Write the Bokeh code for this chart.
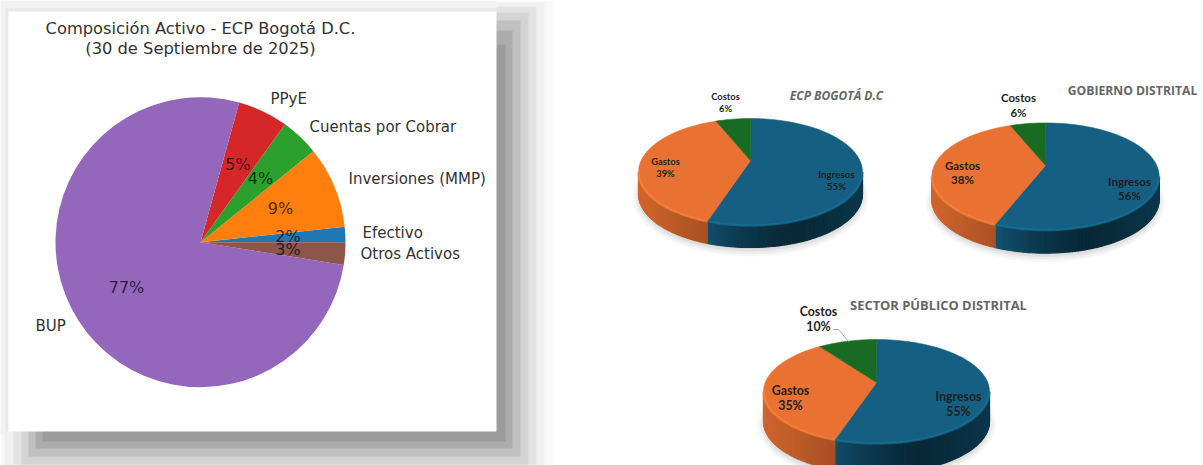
import math
from bokeh.plotting import figure
from bokeh.models import Range1d
from bokeh.core.properties import value
from bokeh.embed import file_html
from bokeh.resources import INLINE

# ---- data ----
asset_names = ["Efectivo", "Inversiones (MMP)", "Cuentas por Cobrar", "PPyE", "BUP", "Otros Activos"]
asset_shares = [1.7, 9.1, 4.3, 5.6, 76.8, 2.5]
asset_pct_labels = ["2%", "9%", "4%", "5%", "77%", "3%"]
asset_colors = ["#1f77b4", "#ff7f0e", "#2ca02c", "#d62728", "#9467bd", "#8c564b"]

pie3d_names = ["Ingresos", "Gastos", "Costos"]
ecp_shares = [56.3, 38.7, 5]
ecp_labels = ["55%", "39%", "6%"]
gob_shares = [57.3, 37.7, 5]
gob_labels = ["56%", "38%", "6%"]
sec_shares = [56, 35.6, 8.4]
sec_labels = ["55%", "35%", "10%"]
pie3d_colors = ["#156082", "#E97132", "#196B24"]

FONT3D = "Lato"
FONTT = "Open Sans"

p = figure(width=1203, height=465, x_range=Range1d(0, 1203), y_range=Range1d(465, 0),
           output_backend="svg", toolbar_location=None, min_border=0)
p.axis.visible = False
p.grid.visible = False
p.outline_line_color = None
p.background_fill_color = "white"
p.border_fill_color = "white"

# ---- card with its shadow: layers from the outermost inward ----
layers = [
    (0, 0, 552, 465, "#f8f8f8"),
    (4, 2, 544, 465, "#f0f0f0"),
    (13, 6, 536, 464, "#e2e2e2"),
    (21, 12, 528, 464, "#d4d4d4"),
    (28, 20, 520, 456, "#c0c0c0"),
    (35, 30, 512, 448, "#acacac"),
    (42, 44, 505, 441, "#9c9c9c"),
    (0, 0, 8, 433, "#f2f2f2"),
    (5, 8, 8, 431, "#e8e8e8"),
    (0, 0, 496, 8, "#f3f3f3"),
    (5, 8, 496, 11, "#e8e8e8"),
    (8, 11, 496, 431, "#ffffff"),
]
for x0, y0, x1, y1, c in layers:
    p.quad(left=x0, right=x1, top=y0, bottom=y1, fill_color=c, line_color=None)

# ---- flat pie ----
CX, CY, R = 200, 241.7, 145
start = 0.0
total = sum(asset_shares)
for s, c in zip(asset_shares, asset_colors):
    end = start + s / total * 2 * math.pi
    p.wedge(x=CX, y=CY, radius=R, start_angle=start, end_angle=end, direction="anticlock",
            fill_color=c, line_color=None)
    start = end

def t(x, y, s, font="DejaVu Sans", size=14, color="#333333", style="normal", alpha=1.0, align="center"):
    p.text(x=[x], y=[y], text=[s], text_font=value(font), text_font_size=f"{size}px",
           text_font_style=style, text_color=color, text_alpha=alpha, text_align=align,
           text_baseline="middle")

t(200, 28, "Composición Activo - ECP Bogotá D.C.", size=16.3)
t(200, 48, "(30 de Septiembre de 2025)", size=16.3)
name_xy = [(362, 232), (348, 178), (309, 126), (270, 98), (35, 325), (360, 253)]
for n, (x, y) in zip(asset_names, name_xy):
    t(x, y, n, size=15, align="left")
pct_xy = [(287.5, 236), (280, 208), (260, 178), (237.5, 164), (126, 287), (287.5, 249)]
for s, (x, y) in zip(asset_pct_labels, pct_xy):
    t(x, y, s, size=16, color="#000000", alpha=0.72)

# ---- 3D pies ----
def mix(c, k):
    r, g, b = int(c[1:3], 16), int(c[3:5], 16), int(c[5:7], 16)
    return "#%02x%02x%02x" % tuple(max(0, min(255, int(v * k))) for v in (r, g, b))

def pie3d(cx, cy, a, b, apex_y, depth, shares):
    # soft ground shadow
    for i, al in enumerate([0.03, 0.04, 0.05, 0.06]):
        p.ellipse(x=cx, y=cy + depth + 3, width=2 * (a + 6 - i * 2.5), height=2 * (b + 6 - i * 2.5),
                  fill_color="#000000", fill_alpha=al, line_color=None)
    tot = sum(shares)
    st = 0.0
    # side wall, shaded strip by strip
    for s, c in zip(shares, pie3d_colors):
        en = st + s / tot * 2 * math.pi
        lo, hi = max(st, math.pi / 2), min(en, 3 * math.pi / 2)
        n = 70
        if hi > lo:
            xs, ys, cols = [], [], []
            for i in range(n):
                u0 = lo + (hi - lo) * i / n
                u1 = lo + (hi - lo) * (i + 1) / n
                x0, x1 = cx + a * math.sin(u0), cx + a * math.sin(u1)
                y0, y1 = cy - b * math.cos(u0), cy - b * math.cos(u1)
                xs.append([x0, x1, x1, x0])
                ys.append([y0, y1, y1 + depth, y0 + depth])
                pos_ = (math.sin((u0 + u1) / 2) + 1) / 2  # 0 at left, 1 at right
                if c == pie3d_colors[1]:
                    k = 0.9 - 0.6 * pos_
                elif pos_ < 0.7:
                    k = 0.42 + 1.6 * (0.7 - pos_) ** 1.5
                else:
                    k = 0.42 + 0.5 * (pos_ - 0.7)
                cols.append(mix(c, k))
            p.patches(xs=xs, ys=ys, fill_color=cols, line_color=cols, line_width=1.2)
        st = en
    # top face
    st = 0.0
    for s, c in zip(shares, pie3d_colors):
        en = st + s / tot * 2 * math.pi
        n = max(4, int(s * 2))
        xs = [cx] + [cx + a * math.sin(st + (en - st) * i / n) for i in range(n + 1)]
        ys = [apex_y] + [cy - b * math.cos(st + (en - st) * i / n) for i in range(n + 1)]
        p.patch(x=xs, y=ys, fill_color=c, line_color=c, line_width=0.5)
        st = en
    # soft light rim along the front edge
    st = 0.0
    for s, c in zip(shares, pie3d_colors):
        en = st + s / tot * 2 * math.pi
        lo, hi = max(st, math.pi / 2), min(en, 3 * math.pi / 2)
        if hi > lo:
            xs = [cx + a * math.sin(lo + (hi - lo) * i / 50) for i in range(51)]
            ys = [cy - b * math.cos(lo + (hi - lo) * i / 50) for i in range(51)]
            p.line(x=xs, y=ys, line_color=mix(c, 1.25), line_width=2.5, line_alpha=0.55)
        st = en

GEOM = [(750, 171.5, 112, 53.5, 160, 22), (1045, 176, 113.7, 53.6, 165, 23), (876, 391, 113, 52, 382, 30)]
for g, sh in zip(GEOM, [ecp_shares, gob_shares, sec_shares]):
    pie3d(*g, sh)

DARK = "#1f1f1f"
def lab(x, y, name, pct, size, dy):
    t(x, y, name, font=FONT3D, size=size, color=DARK, style="bold")
    t(x, y + dy, pct, font=FONT3D, size=size, color=DARK, style="bold")

lab3 = [
    [(836, 173, 9.8, 12.5), (665, 161, 9.4, 12), (725, 96, 9.4, 11.5)],
    [(1129, 181, 11.5, 14), (962, 165, 11.5, 14), (1018, 97, 11.5, 15)],
    [(958, 396, 12.3, 15), (790, 390, 12.3, 15), (818, 311, 12.3, 15)],
]
for rows, labels in zip(lab3, [ecp_labels, gob_labels, sec_labels]):
    for n, l, (x, y, sz, dy) in zip(pie3d_names, labels, rows):
        lab(x, y, n, l, sz, dy)

t(836, 95, "ECP BOGOTÁ D.C", font=FONTT, size=12, color="#666666", style="bold italic")
t(1132, 90, "GOBIERNO DISTRITAL", font=FONTT, size=12.2, color="#666666", style="bold")
t(938, 304, "SECTOR PÚBLICO DISTRITAL", font=FONTT, size=12.9, color="#666666", style="bold")
p.line(x=[833, 838, 848], y=[329, 329, 341], line_color="#a6a6a6", line_width=1)

open("out.html", "w").write(file_html(p, INLINE))
